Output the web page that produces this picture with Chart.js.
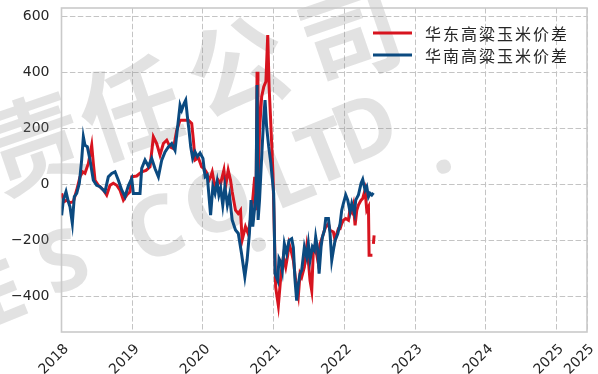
<!DOCTYPE html>
<html>
<head>
<meta charset="utf-8">
<script src="https://cdn.jsdelivr.net/npm/chart.js@4.4.0/dist/chart.umd.min.js"></script>
<style>
  html, body { margin: 0; padding: 0; background: #fff; }
  #wrap { width: 598px; height: 374px; }
</style>
</head>
<body>
<div id="wrap"><canvas id="chart" width="598" height="374"></canvas></div>
<script>
// series names
const eastName = '华东高粱玉米价差';
const southName = '华南高粱玉米价差';

// 华东 (red): dates as decimal years, values in yuan/t
const eastDates = [
  2018.002, 2018.035, 2018.073, 2018.120, 2018.167, 2018.215, 2018.262, 2018.299, 2018.332, 2018.380,
  2018.427, 2018.450, 2018.474, 2018.521, 2018.592, 2018.639, 2018.686, 2018.733, 2018.780, 2018.827,
  2018.875, 2018.922, 2018.969, 2018.993, 2019.063, 2019.134, 2019.195, 2019.252, 2019.299, 2019.346,
  2019.393, 2019.440, 2019.488, 2019.535, 2019.582, 2019.629, 2019.676, 2019.723, 2019.794, 2019.841,
  2019.865, 2019.888, 2019.935, 2019.981, 2020.014, 2020.047, 2020.085, 2020.108, 2020.131, 2020.169,
  2020.216, 2020.249, 2020.296, 2020.319, 2020.357, 2020.390, 2020.413, 2020.460, 2020.498, 2020.531,
  2020.554, 2020.601, 2020.638, 2020.671, 2020.695, 2020.732, 2020.750, 2020.765, 2020.778, 2020.800,
  2020.830, 2020.860, 2020.890, 2020.916, 2020.935, 2020.955, 2020.990, 2021.028, 2021.066, 2021.104,
  2021.137, 2021.170, 2021.198, 2021.217, 2021.245, 2021.278, 2021.311, 2021.349, 2021.373, 2021.396,
  2021.434, 2021.467, 2021.490, 2021.514, 2021.538, 2021.561, 2021.585, 2021.623, 2021.656, 2021.689,
  2021.717, 2021.736, 2021.774, 2021.797, 2021.844, 2021.868, 2021.892, 2021.915, 2021.939, 2021.962,
  2021.986, 2022.019, 2022.057, 2022.080, 2022.104, 2022.127, 2022.151, 2022.175, 2022.198, 2022.236,
  2022.259, 2022.292, 2022.316, 2022.340, 2022.349, 2022.396, 2022.403, 2022.410, 2022.420
];
const eastValues = [
  -32, -62, -56, -65, -62, -20, 27, 45, 40, 75,
  140, 75, 15, -3, -20, -38, -3, 4, -3, -20,
  -56, -38, -26, 27, 30, 45, 50, 63, 170, 146,
  105, 146, 158, 134, 128, 193, 229, 229, 229, 218,
  158, 87, 95, 63, 57, 45, 15, 27, 45, -8,
  15, 3, 51, -8, 51, 15, -26, -92, -104, -92,
  -199, -151, -175, -127, -80, 27, -92, 402, -20, 194,
  313, 349, 367, 533, 349, 242, 39, -367, -433, -319,
  -259, -295, -253, -212, -235, -271, -343, -397, -319, -331,
  -295, -223, -271, -343, -379, -235, -217, -271, -212, -188,
  -164, -152, -140, -164, -170, -200, -176, -158, -158, -140,
  -128, -122, -128, -86, -98, -74, -146, -92, -74, -56,
  -50, -20, -92, -80, -253, -253, null, -212, -182
];

// 华南 (blue)
const southDates = [
  2018.002, 2018.026, 2018.064, 2018.097, 2018.120, 2018.153, 2018.181, 2018.215, 2018.252, 2018.285,
  2018.309, 2018.332, 2018.365, 2018.403, 2018.450, 2018.497, 2018.545, 2018.615, 2018.662, 2018.710,
  2018.757, 2018.804, 2018.851, 2018.898, 2018.945, 2018.993, 2019.016, 2019.110, 2019.134, 2019.181,
  2019.228, 2019.275, 2019.322, 2019.370, 2019.417, 2019.464, 2019.511, 2019.558, 2019.605, 2019.652,
  2019.676, 2019.700, 2019.733, 2019.756, 2019.780, 2019.803, 2019.827, 2019.855, 2019.888, 2019.921,
  2019.959, 2020.000, 2020.030, 2020.060, 2020.108, 2020.140, 2020.170, 2020.200, 2020.225, 2020.250,
  2020.280, 2020.310, 2020.345, 2020.375, 2020.413, 2020.460, 2020.500, 2020.545, 2020.592, 2020.624,
  2020.657, 2020.680, 2020.704, 2020.728, 2020.750, 2020.765, 2020.780, 2020.800, 2020.840, 2020.860,
  2020.878, 2020.900, 2020.930, 2020.960, 2021.000, 2021.020, 2021.057, 2021.075, 2021.104, 2021.123,
  2021.151, 2021.184, 2021.217, 2021.255, 2021.278, 2021.302, 2021.325, 2021.349, 2021.373, 2021.396,
  2021.434, 2021.467, 2021.490, 2021.514, 2021.547, 2021.575, 2021.594, 2021.623, 2021.642, 2021.670,
  2021.689, 2021.717, 2021.736, 2021.774, 2021.797, 2021.821, 2021.844, 2021.868, 2021.906, 2021.939,
  2021.962, 2021.986, 2022.019, 2022.047, 2022.080, 2022.104, 2022.142, 2022.160, 2022.198, 2022.236,
  2022.259, 2022.292, 2022.316, 2022.340, 2022.363, 2022.387, 2022.410
];
const southValues = [
  -110, -56, -26, -62, -80, -139, -44, -32, 4, 87,
  170, 140, 135, 87, 15, -3, -8, -26, 27, 39,
  45, 15, -20, -44, -5, 21, -32, -32, 57, 87,
  65, 93, 57, 27, 87, 116, 134, 146, 122, 229,
  283, 265, 289, 301, 242, 193, 134, 93, 116, 99,
  112, 93, 27, 33, -110, -8, -32, 10, -38, -14,
  -74, -8, -74, -38, -127, -163, -175, -246, -330, -270,
  -175, -56, -151, -92, -32, 355, -127, -56, 146, 242,
  301, 206, 134, 75, -32, -319, -343, -265, -280, -307,
  -212, -247, -200, -194, -225, -343, -415, -355, -319, -307,
  -223, -260, -212, -271, -223, -235, -188, -235, -319, -223,
  -188, -164, -122, -122, -176, -271, -235, -200, -176, -140,
  -92, -68, -38, -56, -98, -68, -104, -56, -38, 4,
  18, -20, -8, -44, -32, -38, -30
];

const yTicks = [-400, -200, 0, 200, 400, 600];
const xTicks = [2018, 2019, 2020, 2021, 2022, 2023, 2024, 2025];
const xMin = 2018, xMax = 2025.43;
const yMin = -527, yMax = 630;

const RED = '#d7141f';
const BLUE = '#0b4a80';
const TEXT = '#262626';

function pts(dates, values) {
  return dates.map((d, i) => ({ x: d, y: values[i] }));
}

// no extra label padding, so the plot box sits where the layout padding says
function noPad(s) {
  s.paddingTop = 0; s.paddingBottom = 0; s.paddingLeft = 0; s.paddingRight = 0;
}

// watermark, frame and legend
const decor = {
  id: 'decor',
  beforeDatasetsDraw(chart) {
    const { ctx, chartArea: a } = chart;
    ctx.save();
    ctx.fillStyle = 'rgba(140,140,140,0.25)';
    ctx.textAlign = 'center';
    ctx.textBaseline = 'middle';
    ctx.font = 'bold 100px "Noto Sans CJK SC"';
    [['责', 33, 143], ['任', 130, 108], ['公', 237, 66], ['司', 350, 35]].forEach(([t, x, y]) => {
      ctx.save(); ctx.translate(x, y); ctx.rotate(-19 * Math.PI / 180); ctx.fillText(t, 0, 0); ctx.restore();
    });
    ctx.font = 'bold 84px "Noto Sans"';
    [['E', 2, 298], ['S', 65, 266], ['C', 157, 233], ['O', 220, 207], ['.', 252, 228],
     ['L', 289, 180], ['T', 326, 157], ['D', 367, 133], ['.', 437, 150]].forEach(([t, x, y]) => {
      ctx.save(); ctx.translate(x, y); ctx.rotate(-22 * Math.PI / 180); ctx.fillText(t, 0, 0); ctx.restore();
    });
    ctx.restore();

    ctx.save();
    ctx.strokeStyle = '#cacaca';
    ctx.lineWidth = 1.6;
    ctx.strokeRect(a.left, a.top, a.right - a.left, a.bottom - a.top);
    ctx.restore();
  },
  afterDatasetsDraw(chart) {
    const { ctx } = chart;
    const rows = [[eastName, RED, 33], [southName, BLUE, 55]];
    ctx.save();
    ctx.font = '16px "Noto Sans CJK SC"';
    ctx.letterSpacing = '2px';
    ctx.textBaseline = 'middle';
    ctx.textAlign = 'left';
    rows.forEach(([name, color, y]) => {
      ctx.strokeStyle = color;
      ctx.lineWidth = 2.8;
      ctx.beginPath(); ctx.moveTo(373, y); ctx.lineTo(412, y); ctx.stroke();
      ctx.fillStyle = TEXT;
      ctx.fillText(name, 425, y + 1);
    });
    ctx.restore();
  }
};

new Chart(document.getElementById('chart'), {
  type: 'line',
  data: {
    datasets: [
      { label: eastName, data: pts(eastDates, eastValues), borderColor: RED, order: 1 },
      { label: southName, data: pts(southDates, southValues), borderColor: BLUE, order: 0 }
    ]
  },
  options: {
    responsive: false,
    animation: false,
    devicePixelRatio: 1,
    layout: { padding: { top: 8, right: 11, left: 0, bottom: 0 } },
    elements: {
      line: { borderWidth: 3, tension: 0, fill: false, borderJoinStyle: 'miter' },
      point: { radius: 0 }
    },
    plugins: { legend: { display: false }, tooltip: { enabled: false } },
    scales: {
      x: {
        type: 'linear',
        min: xMin,
        max: xMax,
        afterBuildTicks: s => { s.ticks = [...xTicks, xMax].map(v => ({ value: v })); },
        afterFit: s => { s.height = 42; noPad(s); },
        grid: { color: '#c4c4c4', lineWidth: 1, drawTicks: false },
        border: { display: false, dash: [5.5, 2.4] },
        ticks: {
          autoSkip: false,
          minRotation: 45,
          maxRotation: 45,
          padding: 9,
          labelOffset: 5,
          color: TEXT,
          font: { family: 'DejaVu Sans', size: 14 },
          callback: v => String(Math.floor(v))
        }
      },
      y: {
        min: yMin,
        max: yMax,
        afterBuildTicks: s => { s.ticks = yTicks.map(v => ({ value: v })); },
        afterFit: s => { s.width = 61.5; noPad(s); },
        grid: { color: '#c4c4c4', lineWidth: 1, drawTicks: false },
        border: { display: false, dash: [5.5, 2.4] },
        ticks: {
          padding: 12,
          color: TEXT,
          font: { family: 'DejaVu Sans', size: 14 },
          callback: v => (v < 0 ? '\u2212' + Math.abs(v) : String(v))
        }
      }
    }
  },
  plugins: [decor]
});
</script>
</body>
</html>
